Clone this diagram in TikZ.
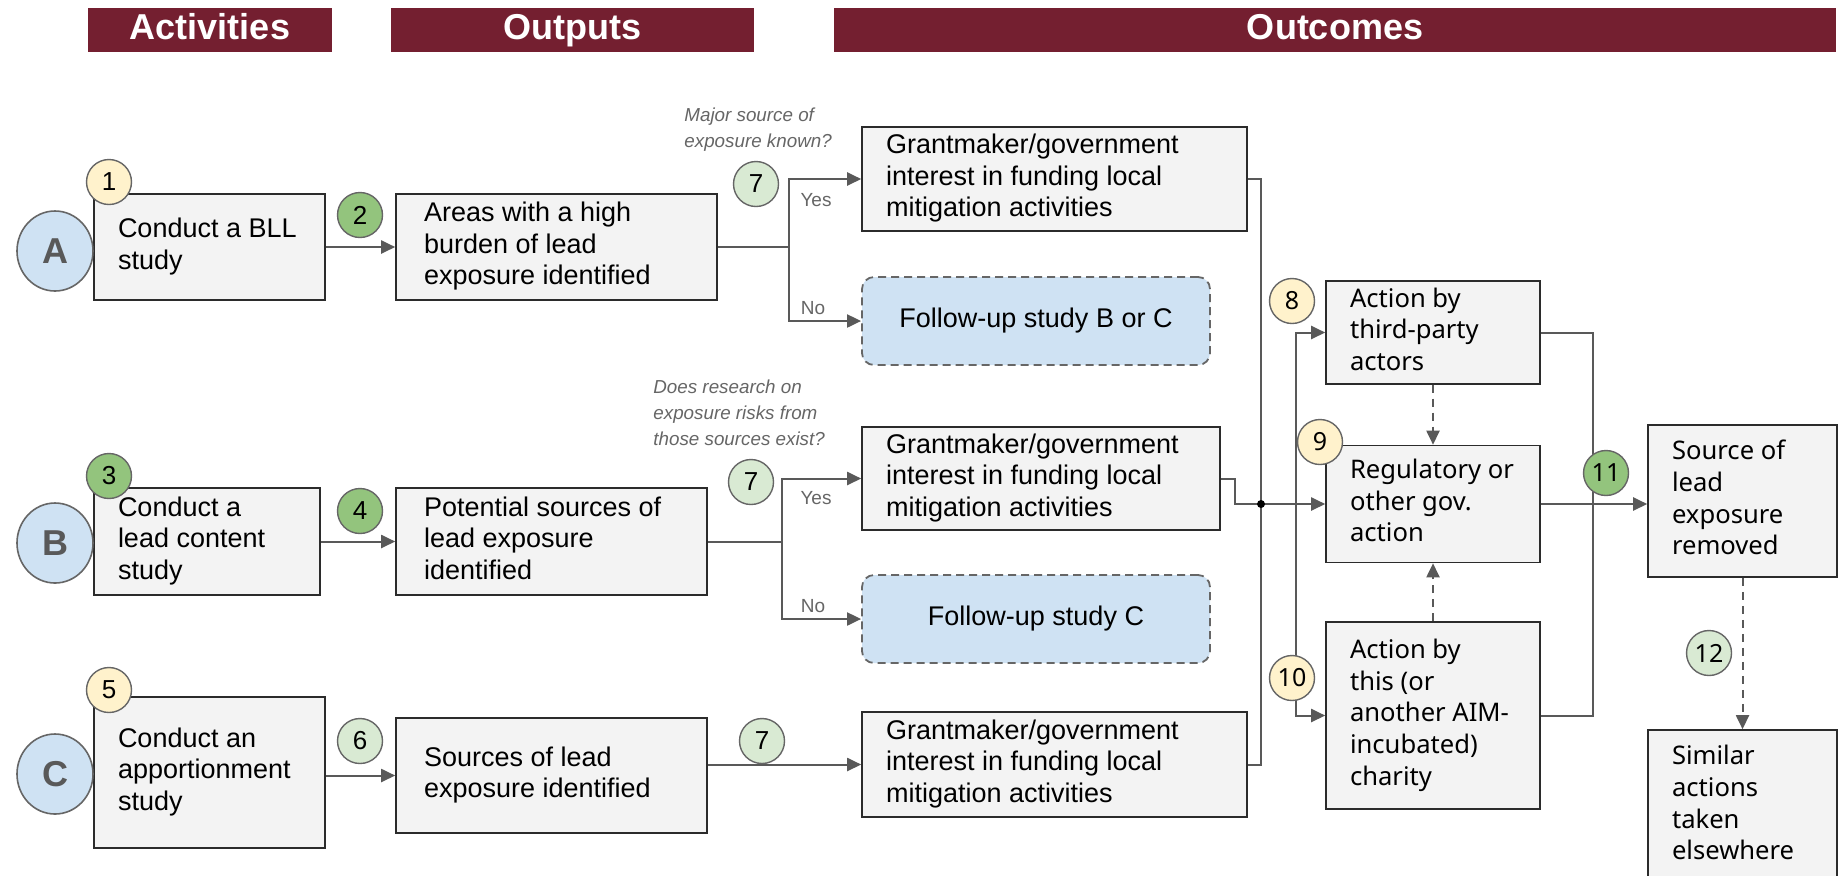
\documentclass[tikz,border=0pt]{standalone}
\usepackage{fontspec}
\setmainfont{Liberation Sans}
\newfontfamily\rfont{Noto Sans}
\usetikzlibrary{arrows.meta,shapes.geometric}
\definecolor{hdrclr}{HTML}{741F30}
\definecolor{boxfill}{HTML}{F3F3F3}
\definecolor{boxline}{HTML}{2B2B2B}
\definecolor{lineclr}{HTML}{595959}
\definecolor{fublue}{HTML}{CFE2F3}
\definecolor{cream}{HTML}{FFF2CC}
\definecolor{grn}{HTML}{93C47D}
\definecolor{lgrn}{HTML}{D9EAD3}
\definecolor{qgray}{HTML}{666666}
\newcommand\tl[2]{\makebox[#1][l]{\begin{tabular}{@{}l@{}}#2\end{tabular}}}
\begin{document}
\begin{tikzpicture}[x=0.5pt,y=-0.5pt,
  lfont/.style={font=\fontsize{13.5}{15.8}\selectfont},
  box/.style={draw=boxline, fill=boxfill, line width=0.8pt, inner xsep=12pt, inner ysep=2pt, lfont},
  rbox/.style={box, font=\rfont\fontsize{12.8}{15.8}\selectfont},
  fubox/.style={draw=qgray, dash pattern=on 4pt off 2.5pt, fill=fublue, line width=0.9pt, rounded corners=6pt, minimum width=174pt, minimum height=44pt, lfont},
  hdrbar/.style={fill=hdrclr, text=white, font=\bfseries\fontsize{18}{20}\selectfont, minimum height=22pt, inner sep=0pt, text height=13pt, text depth=3.5pt},
  letter/.style={ellipse, draw=qgray, fill=fublue, line width=0.8pt, minimum width=38pt, minimum height=40pt, inner sep=0pt, text=lineclr, font=\bfseries\fontsize{18}{20}\selectfont},
  num/.style={circle, draw=qgray, line width=0.7pt, minimum size=22.5pt, inner sep=0pt, font=\fontsize{13}{14}\selectfont},
  rnum/.style={num, font=\rfont\fontsize{12.5}{14}\selectfont},
  link/.style={draw=lineclr, line width=1pt},
  arr/.style={link, -{Triangle[length=7pt,width=6.5pt]}},
  darr/.style={arr, dash pattern=on 4pt off 3pt},
  question/.style={align=left, anchor=west, text=qgray, font=\itshape\fontsize{9.4}{12.9}\selectfont, inner sep=0pt},
  yn/.style={text=qgray, font=\fontsize{9.5}{11}\selectfont, inner sep=1pt}
]
\useasboundingbox (0,0) rectangle (1839,875);
\fill[white] (0,0) rectangle (1839,875);

% headers
\node[hdrbar, minimum width=122pt] (hA) at (210,30) {Activities};
\node[hdrbar, minimum width=181.5pt] (hO) at (572.5,30) {Outputs};
\node[hdrbar, minimum width=501pt] (hC) at (1335,30) {Outcomes};

% boxes
\node[box, minimum height=53pt] (b1) at (209.5,247) {\tl{91.5pt}{Conduct a BLL\\study}};
\node[box, inner xsep=14pt, minimum height=53pt] (b2) at (556.5,247) {\tl{132.5pt}{Areas with a high\\burden of lead\\exposure identified}};
\node[box, minimum height=52pt] (g1) at (1054.5,179) {\tl{168.5pt}{Grantmaker/government\\interest in funding local\\mitigation activities}};
\node[fubox] (f1) at (1036,321) {Follow-up study B or C};

\node[box, minimum height=53.5pt] (b3) at (207,541.5) {\tl{89pt}{Conduct a\\lead content\\study}};
\node[box, inner xsep=14pt, minimum height=53.5pt] (b4) at (551.5,541.5) {\tl{127.5pt}{Potential sources of\\lead exposure\\identified}};
\node[box, minimum height=51.5pt] (g2) at (1041,478.5) {\tl{155pt}{Grantmaker/government\\interest in funding local\\mitigation activities}};
\node[fubox] (f2) at (1036,619) {Follow-up study C};

\node[box, minimum height=75.5pt] (b5) at (209.5,772.5) {\tl{91.5pt}{Conduct an\\apportionment\\study}};
\node[box, inner xsep=14pt, minimum height=57.5pt] (b6) at (551.5,775.5) {\tl{127.5pt}{Sources of lead\\exposure identified}};
\node[box, minimum height=52.5pt] (g3) at (1054.5,764.5) {\tl{168.5pt}{Grantmaker/government\\interest in funding local\\mitigation activities}};

\node[rbox, minimum height=49.5pt] (r8) at (1433,332.5) {\tl{83pt}{Action by\\third-party\\actors}};
\node[rbox, minimum height=58.5pt] (r9) at (1433,504) {\tl{83pt}{Regulatory or\\other gov.\\action}};
\node[rbox, minimum height=93.5pt] (r10) at (1433,715.5) {\tl{83pt}{Action by\\this (or\\another AIM-\\incubated)\\charity}};
\node[rbox, minimum height=76pt] (r11) at (1742.5,501) {\tl{70.5pt}{Source of\\lead\\exposure\\removed}};
\node[rbox, minimum height=76pt] (r12) at (1742.5,806) {\tl{70.5pt}{Similar\\actions\\taken\\elsewhere}};

% connectors
\coordinate (s1) at (789,247);
\coordinate (s2) at (782,541.5);
\draw[arr] (b1) -- (b2);
\draw[link] (b2.east) -- (s1);
\draw[arr] (s1) |- (g1.west);
\draw[arr] (s1) |- (f1.west);
\draw[arr] (b3) -- (b4);
\draw[link] (b4.east) -- (s2);
\draw[arr] (s2) |- (g2.west);
\draw[arr] (s2) |- (f2.west);
\draw[arr] (b5.east |- b6.west) -- (b6.west);
\draw[arr] (b6.east |- g3.west) -- (g3.west);

\coordinate (J) at (1261,504);
\coordinate (V) at (1296,504);
\coordinate (K) at (1593,504);
\draw[link] (g1.east) -| (J);
\draw[link] (g3.east) -| (J);
\draw[link] (g2.east) -- ++(14,0) |- (J);
\draw[arr] (J) -- (r9.west);
\draw[arr] (V) |- (r8.west);
\draw[arr] (V) |- (r10.west);
\fill[black] (J) circle (2pt);
\draw[darr] (r8) -- (r9);
\draw[darr] (r10) -- (r9);
\draw[arr] (r9.east) -- (r9.east -| r11.west);
\draw[link] (r8.east) -| (K);
\draw[link] (r10.east) -| (K);
\draw[darr] (r11) -- (r12);

% labels
\node[question] (q1) at (684,130) {Major source of\\exposure known?};
\node[question] (q2) at (653,413) {Does research on\\exposure risks from\\those sources exist?};
\node[yn] (y1) at (816,200) {Yes};
\node[yn] (no1) at (813,308) {No};
\node[yn] (y2) at (816,498) {Yes};
\node[yn] (no2) at (813,606) {No};

% number circles
\node[num, fill=cream] (n1) at (109,182) {1};
\node[num, fill=grn] (n2) at (360,215) {2};
\node[num, fill=grn] (n3) at (109,476) {3};
\node[num, fill=grn] (n4) at (360,511) {4};
\node[num, fill=cream] (n5) at (109,690) {5};
\node[num, fill=lgrn] (n6) at (360,741) {6};
\node[num, fill=lgrn] (n7a) at (756,184) {7};
\node[num, fill=lgrn] (n7b) at (751,482) {7};
\node[num, fill=lgrn] (n7c) at (762,741) {7};
\node[rnum, fill=cream] (n8) at (1292,301) {8};
\node[rnum, fill=cream] (n9) at (1320,442) {9};
\node[rnum, fill=cream] (n10) at (1292,678) {10};
\node[rnum, fill=grn] (n11) at (1606,473) {11};
\node[rnum, fill=lgrn] (n12) at (1709,653) {12};

% letters
\node[letter] (A) at (55,251) {A};
\node[letter] (B) at (55,543) {B};
\node[letter] (C) at (55,774) {C};
\end{tikzpicture}
\end{document}
